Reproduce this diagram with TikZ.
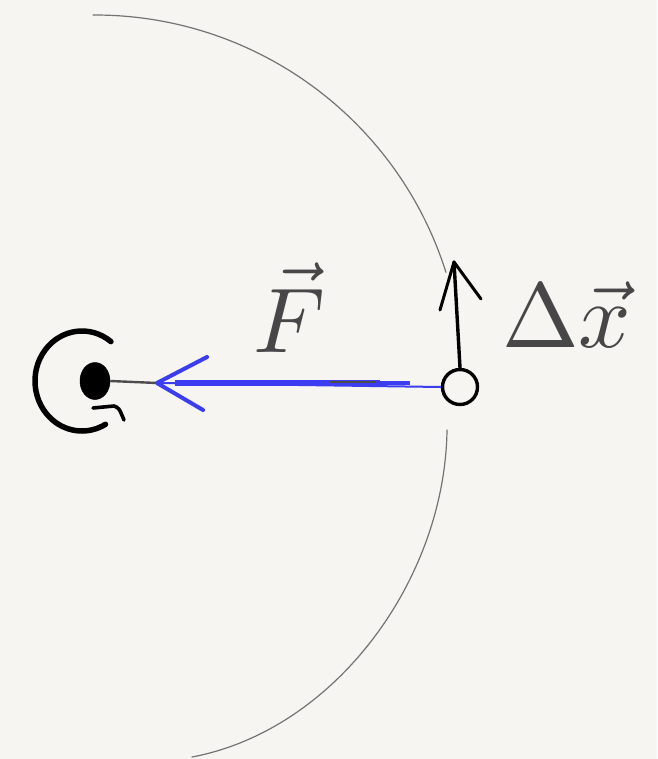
\documentclass[tikz,border=0pt]{standalone}
\usetikzlibrary{shapes.geometric}
\begin{document}
\begin{tikzpicture}[x=1pt,y=-1pt,
  thinarc/.style={draw=black!55,line width=1.2pt,line cap=round},
  ink/.style={draw=black,line cap=round,line join=round},
  blueink/.style={draw=fblue,line cap=round,line join=round},
  lbl/.style={text=black!72,inner sep=0pt}]
\definecolor{bg}{HTML}{F6F5F1}
\definecolor{fblue}{HTML}{3C3CF0}
\fill[bg] (0,0) rectangle (657,759);
\useasboundingbox (0,0) rectangle (657,759);

% big arcs
\draw[thinarc] (95,383) ++(-90.3:368) arc[start angle=-90.3,end angle=-17.5,radius=368];
\draw[thinarc] (447,430) .. controls (445,580) and (335,730) .. (192,757);

% nodes
\node[ink,fill=black,ellipse,inner sep=0pt,minimum width=30pt,minimum height=37pt,line width=0.5pt] (M) at (95,381) {};
\node[ink,circle,inner sep=0pt,minimum size=35pt,line width=3.4pt] (m) at (460,387) {};
\coordinate (Ftip) at (157,383);
\coordinate (xtip) at (454,262);

% curly rotation arrow
\draw[ink,line width=5.5pt] (82,381) ++(-52:47 and 50) arc[start angle=-52,end angle=-300,x radius=47,y radius=50];
\draw[ink,line width=3.6pt] (93,408) -- (114,406) .. controls (119,408) .. (124,420);

% black connector from M to F arrow
\draw[draw=black!70,line width=2.4pt] (M.east) -- (Ftip);

% force arrow
\draw[draw=fblue,line width=2pt] (m.west) -- (Ftip);
\draw[draw=fblue,line width=6pt] (380,383) -- (175,383);
\draw[draw=fblue,line width=4pt] (410,383) -- (380,383);
\draw[draw=black!70,line width=2.4pt] (330,382) -- (375,382);
\draw[blueink,line width=4pt] (207,357) -- (Ftip) -- (203,410);

% displacement arrow
\draw[ink,line width=3.4pt] (m.north) -- (xtip);
\draw[ink,line width=3pt] (440,310) -- (xtip) -- (481,299);

% labels
\node[lbl,anchor=base] (F) at (289,352) {\scalebox{9.2}{$\vec F$}};
\node[lbl,anchor=base west] (dx) at (502,347) {\scalebox{9.2}{$\Delta\vec x$}};
\end{tikzpicture}
\end{document}
